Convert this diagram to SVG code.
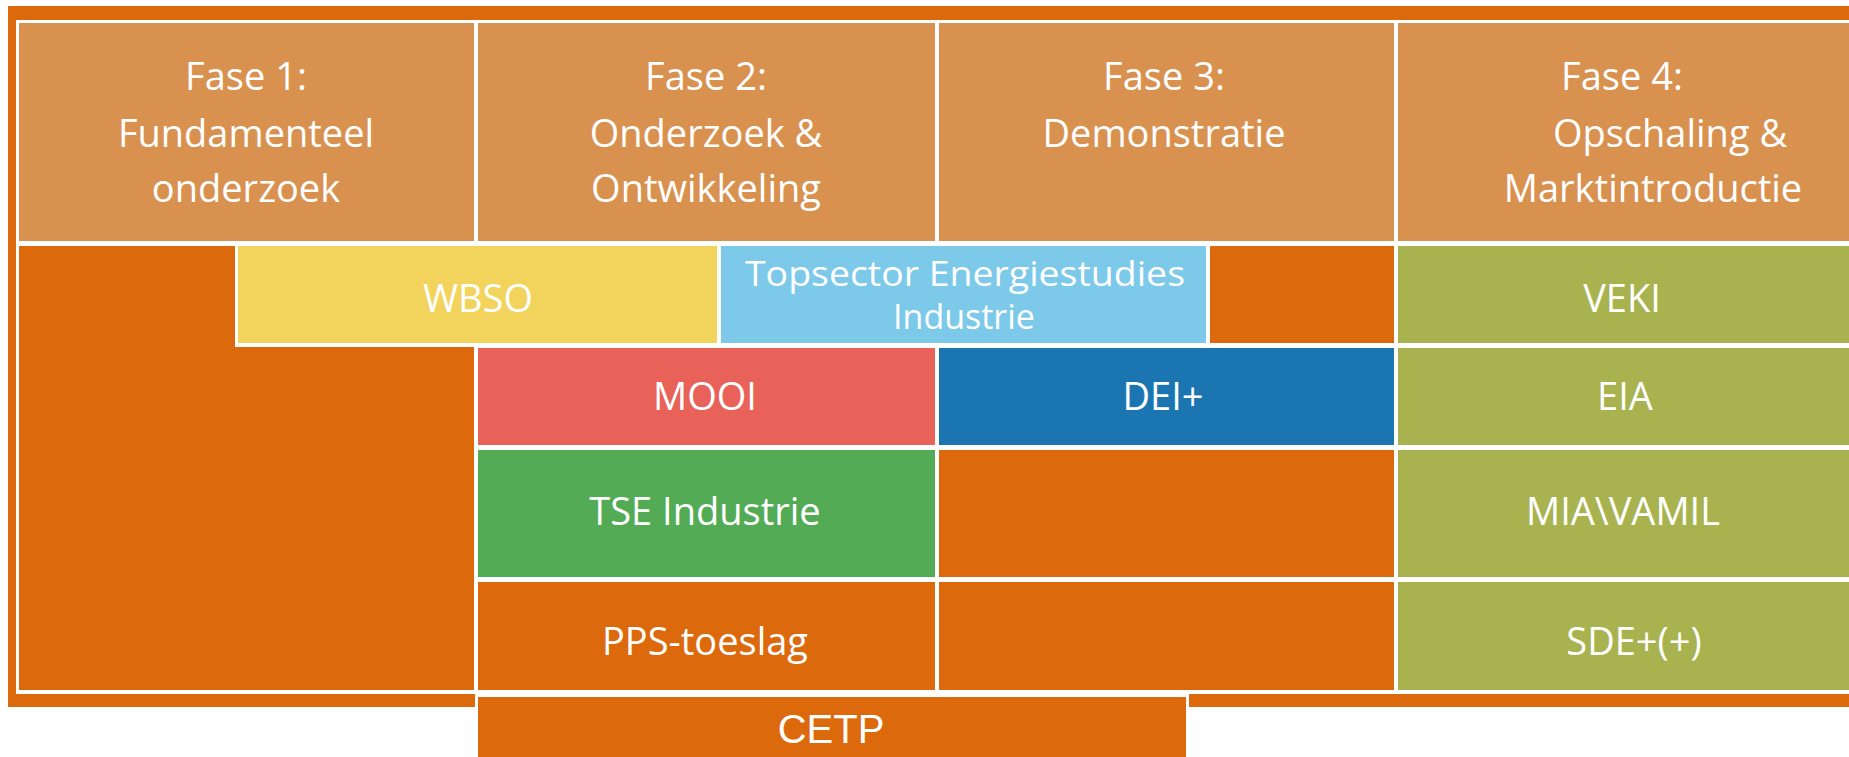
<svg xmlns="http://www.w3.org/2000/svg" width="1849" height="757" viewBox="0 0 1849 757">
<style>
.t{font-family:"Open Sans","Noto Sans",sans-serif;font-size:38px;fill:#ffffff;text-anchor:middle}
.ts{font-family:"Open Sans","Noto Sans",sans-serif;font-size:34px;fill:#ffffff;text-anchor:middle}
.c{font-family:"Liberation Sans",Arial,sans-serif;font-size:40px;fill:#ffffff;text-anchor:middle}
.hd{fill:#D99150}
.or{fill:#DC6A0C}
.ol{fill:#A8B34F}
</style>
<rect width="1849" height="757" fill="#ffffff"/>
<rect id="frame" x="8" y="6" width="1841" height="701" fill="#DC6A0C"/>
<rect id="grid" x="16" y="20" width="1833" height="674" fill="#ffffff"/>

<g id="fase1"><rect class="hd" x="19" y="23" width="455" height="218"/>
<text class="t" x="246" y="90">Fase 1:</text><text class="t" x="246" y="147">Fundamenteel</text><text class="t" x="246" y="202">onderzoek</text></g>
<g id="fase2"><rect class="hd" x="478" y="23" width="457" height="218"/>
<text class="t" x="706" y="90">Fase 2:</text><text class="t" x="706" y="147">Onderzoek &amp;</text><text class="t" x="706" y="202">Ontwikkeling</text></g>
<g id="fase3"><rect class="hd" x="939" y="23" width="455" height="218"/>
<text class="t" x="1164" y="90">Fase 3:</text><text class="t" x="1164" y="147">Demonstratie</text></g>
<g id="fase4"><rect class="hd" x="1398" y="23" width="451" height="218"/>
<text class="t" x="1622" y="90">Fase 4:</text><text class="t" x="1670" y="147">Opschaling &amp;</text><text class="t" x="1653" y="202">Marktintroductie</text></g>

<g id="col1-empty"><rect class="or" x="19" y="246" width="455" height="444"/></g>
<g id="wbso"><rect fill="#ffffff" x="235" y="246" width="243" height="101"/><rect fill="#F2D45C" x="238" y="246" width="479" height="97"/>
<text class="t" x="478" y="312">WBSO</text></g>
<g id="topsector"><rect fill="#7DC9EA" x="721" y="246" width="485" height="97"/>
<text class="ts" x="965" y="286" textLength="440" lengthAdjust="spacingAndGlyphs">Topsector Energiestudies</text><text class="ts" x="964" y="329">Industrie</text></g>
<g id="col3-rowA"><rect class="or" x="1210" y="246" width="184" height="97"/></g>
<g id="veki"><rect class="ol" x="1398" y="246" width="451" height="97"/><text class="t" x="1622" y="312">VEKI</text></g>

<g id="mooi"><rect fill="#E8625A" x="478" y="348" width="457" height="97"/><text class="t" x="705" y="410">MOOI</text></g>
<g id="dei"><rect fill="#1B75B1" x="939" y="348" width="455" height="97"/><text class="t" x="1163" y="410">DEI+</text></g>
<g id="eia"><rect class="ol" x="1398" y="348" width="451" height="97"/><text class="t" x="1625" y="410">EIA</text></g>

<g id="tse"><rect fill="#53AB55" x="478" y="450" width="457" height="127"/><text class="t" x="705" y="525">TSE Industrie</text></g>
<g id="col3-rowC"><rect class="or" x="939" y="450" width="455" height="127"/></g>
<g id="miavamil"><rect class="ol" x="1398" y="450" width="451" height="127"/><text class="t" x="1623" y="525">MIA\VAMIL</text></g>

<g id="pps"><rect class="or" x="478" y="582" width="457" height="108"/><text class="t" x="705" y="655">PPS-toeslag</text></g>
<g id="col3-rowD"><rect class="or" x="939" y="582" width="455" height="108"/></g>
<g id="sde"><rect class="ol" x="1398" y="582" width="451" height="108"/><text class="t" x="1634" y="655">SDE+(+)</text></g>

<g id="cetp"><rect fill="#ffffff" x="475" y="694" width="714" height="63"/><rect class="or" x="478" y="697" width="708" height="60"/>
<text class="c" x="831" y="743">CETP</text></g>
</svg>
